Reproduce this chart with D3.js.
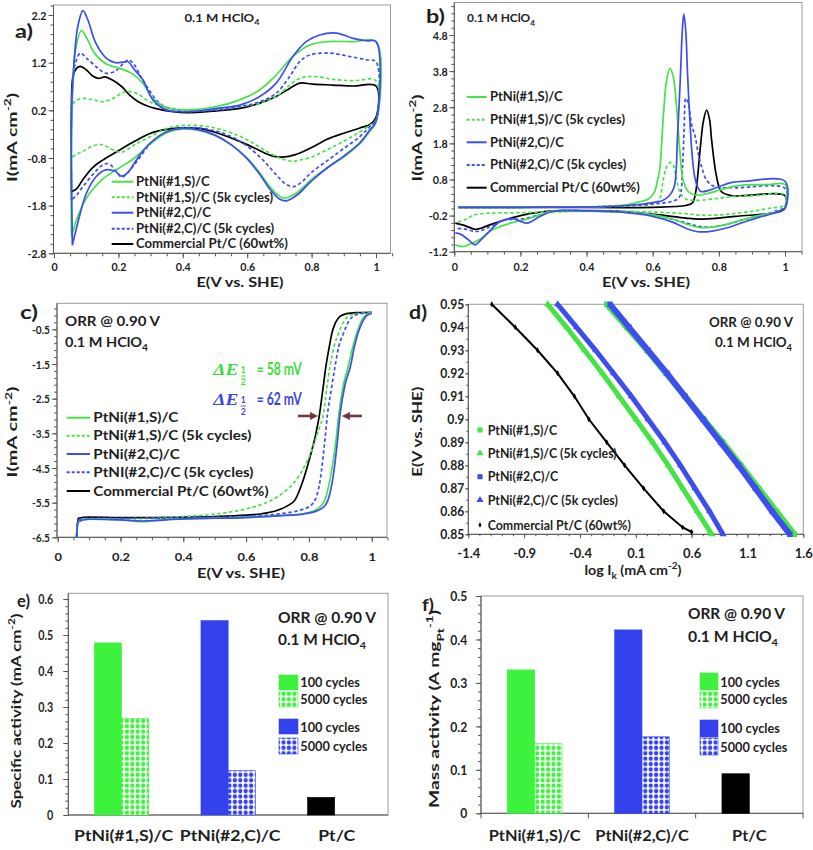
<!DOCTYPE html>
<html><head><meta charset="utf-8">
<script src="https://cdn.jsdelivr.net/npm/d3@7"></script>
<style>
body{margin:0;background:#fff}
svg{display:block}
text{font-family:Lato,"Open Sans","DejaVu Sans",sans-serif;font-weight:700;fill:#1e1e1e}
</style></head><body>
<svg id="chart" width="813" height="850"></svg>
<script>
// ================= DATA =================
const seriesNames = ["PtNi(#1,S)/C","PtNi(#1,S)/C (5k cycles)","PtNi(#2,C)/C","PtNi(#2,C)/C (5k cycles)","Commercial Pt/C (60wt%)"];
const seriesNamesC = ["PtNi(#1,S)/C","PtNi(#1,S)/C (5k cycles)","PtNi(#2,C)/C","PtNI(#2,C)/C (5k cycles)","Commercial Pt/C (60wt%)"];

// Panel a: CV in 0.1 M HClO4, [E (V), I (mA cm-2)], anodic then cathodic sweep
const a_PtNi1S = [[0.054,-2.45],[0.054,-0.28],[0.057,0.42],[0.067,1.47],[0.085,1.87],[0.102,1.71],[0.126,1.40],[0.163,1.17],[0.204,1.08],[0.240,0.98],[0.276,0.77],[0.307,0.45],[0.349,0.26],[0.411,0.21],[0.504,0.28],[0.577,0.42],[0.639,0.63],[0.690,0.94],[0.742,1.33],[0.794,1.57],[0.846,1.64],[0.929,1.64],[1.0,1.64],
 [1.0,-0.05],[0.98,-0.25],[0.95,-0.50],[0.90,-0.78],[0.85,-1.00],[0.80,-1.25],[0.76,-1.50],[0.73,-1.62],[0.715,-1.64],[0.70,-1.60],[0.67,-1.40],[0.64,-1.12],[0.60,-0.80],[0.55,-0.52],[0.50,-0.33],[0.45,-0.22],[0.40,-0.19],[0.35,-0.27],[0.30,-0.50],[0.25,-0.80],[0.20,-1.02],[0.15,-1.25],[0.10,-1.65],[0.07,-2.10],[0.054,-2.45]];
const a_PtNi1S_5k = [[0.054,-0.80],[0.054,0.0],[0.056,0.28],[0.067,0.40],[0.09,0.45],[0.121,0.42],[0.152,0.38],[0.183,0.45],[0.214,0.57],[0.240,0.59],[0.266,0.52],[0.297,0.38],[0.339,0.28],[0.40,0.21],[0.504,0.21],[0.577,0.28],[0.639,0.35],[0.69,0.49],[0.732,0.73],[0.763,0.87],[0.804,0.91],[0.866,0.85],[0.929,0.82],[1.0,0.82],
 [1.0,0.0],[0.98,-0.12],[0.95,-0.25],[0.90,-0.45],[0.85,-0.62],[0.80,-0.78],[0.76,-0.85],[0.74,-0.87],[0.70,-0.80],[0.65,-0.62],[0.60,-0.42],[0.55,-0.27],[0.50,-0.17],[0.45,-0.12],[0.40,-0.12],[0.35,-0.18],[0.30,-0.35],[0.25,-0.52],[0.21,-0.68],[0.18,-0.62],[0.15,-0.52],[0.12,-0.55],[0.09,-0.66],[0.07,-0.72],[0.054,-0.80]];
const a_PtNi2C = [[0.057,-2.63],[0.054,0.0],[0.058,0.77],[0.074,1.96],[0.09,2.29],[0.105,2.10],[0.13,1.61],[0.163,1.29],[0.19,1.20],[0.215,1.21],[0.23,1.22],[0.25,1.05],[0.276,0.84],[0.307,0.42],[0.349,0.21],[0.411,0.17],[0.504,0.24],[0.577,0.31],[0.639,0.49],[0.69,0.77],[0.742,1.33],[0.783,1.64],[0.825,1.78],[0.877,1.82],[0.929,1.71],[0.97,1.66],[1.0,1.64],
 [1.0,-0.03],[0.98,-0.22],[0.95,-0.48],[0.90,-0.76],[0.85,-1.00],[0.80,-1.28],[0.76,-1.55],[0.73,-1.68],[0.72,-1.70],[0.70,-1.66],[0.67,-1.45],[0.64,-1.15],[0.60,-0.82],[0.55,-0.52],[0.50,-0.32],[0.45,-0.21],[0.40,-0.18],[0.35,-0.25],[0.30,-0.48],[0.26,-0.80],[0.23,-1.10],[0.21,-1.18],[0.19,-1.08],[0.16,-1.05],[0.13,-1.20],[0.10,-1.55],[0.08,-2.0],[0.065,-2.4],[0.057,-2.63]];
const a_PtNi2C_5k = [[0.054,-1.68],[0.054,0.0],[0.059,0.8],[0.067,1.2],[0.082,1.40],[0.10,1.30],[0.13,1.12],[0.16,0.98],[0.19,1.02],[0.215,1.18],[0.232,1.26],[0.25,1.15],[0.27,0.90],[0.293,0.65],[0.32,0.40],[0.35,0.26],[0.40,0.18],[0.504,0.21],[0.577,0.28],[0.639,0.38],[0.69,0.56],[0.732,0.91],[0.763,1.22],[0.794,1.36],[0.856,1.40],[0.918,1.33],[0.97,1.26],[1.0,1.22],
 [1.0,0.0],[0.98,-0.15],[0.95,-0.35],[0.90,-0.60],[0.85,-0.85],[0.80,-1.10],[0.77,-1.30],[0.745,-1.40],[0.72,-1.35],[0.69,-1.15],[0.65,-0.85],[0.60,-0.55],[0.55,-0.35],[0.50,-0.23],[0.45,-0.17],[0.40,-0.17],[0.35,-0.25],[0.30,-0.50],[0.26,-0.85],[0.23,-1.10],[0.21,-1.20],[0.19,-1.05],[0.17,-0.92],[0.15,-0.95],[0.12,-1.15],[0.09,-1.40],[0.07,-1.58],[0.054,-1.68]];
const a_PtC = [[0.054,-1.51],[0.054,0.0],[0.059,0.91],[0.07,1.08],[0.081,1.12],[0.10,1.05],[0.12,0.92],[0.138,0.87],[0.158,0.90],[0.18,0.84],[0.21,0.70],[0.235,0.52],[0.262,0.38],[0.29,0.29],[0.314,0.24],[0.37,0.17],[0.411,0.15],[0.504,0.19],[0.577,0.24],[0.639,0.35],[0.69,0.49],[0.732,0.66],[0.763,0.77],[0.804,0.75],[0.866,0.73],[0.929,0.71],[1.0,0.71],
 [1.0,0.05],[0.98,-0.10],[0.95,-0.17],[0.90,-0.28],[0.85,-0.40],[0.80,-0.58],[0.75,-0.73],[0.71,-0.78],[0.68,-0.76],[0.64,-0.65],[0.60,-0.52],[0.55,-0.38],[0.50,-0.26],[0.45,-0.18],[0.40,-0.17],[0.35,-0.20],[0.30,-0.28],[0.25,-0.45],[0.20,-0.65],[0.15,-0.85],[0.12,-1.00],[0.09,-1.25],[0.07,-1.45],[0.054,-1.51]];

// Panel b: CO stripping, [E (V), I (mA cm-2)]
const b_PtNi1S = [[0.012,0.03],[0.2,0.03],[0.45,0.05],[0.52,0.10],[0.56,0.18],[0.587,0.26],[0.605,0.45],[0.615,0.8],[0.622,1.15],[0.632,2.54],[0.642,3.55],[0.652,3.88],[0.662,3.65],[0.672,2.82],[0.682,1.6],[0.692,0.78],[0.708,0.46],[0.728,0.37],[0.76,0.40],[0.80,0.50],[0.84,0.60],[0.88,0.65],[0.95,0.66],[1.0,0.66],
 [1.0,0.02],[0.97,-0.10],[0.92,-0.20],[0.87,-0.32],[0.82,-0.45],[0.78,-0.52],[0.74,-0.53],[0.70,-0.43],[0.66,-0.30],[0.60,-0.18],[0.50,-0.10],[0.40,-0.08],[0.30,-0.07],[0.26,-0.18],[0.22,-0.30],[0.19,-0.36],[0.14,-0.50],[0.11,-0.62],[0.08,-0.84],[0.045,-1.0],[0.023,-1.06],[0.003,-1.01]];
const b_PtNi1S_5k = [[0.012,0.03],[0.2,0.03],[0.45,0.05],[0.55,0.07],[0.60,0.12],[0.62,0.25],[0.63,0.7],[0.64,1.1],[0.652,1.27],[0.662,1.2],[0.672,0.8],[0.682,0.45],[0.70,0.26],[0.73,0.22],[0.80,0.28],[0.85,0.33],[0.90,0.35],[1.0,0.37],
 [1.0,0.1],[0.95,0.0],[0.90,-0.08],[0.85,-0.14],[0.80,-0.18],[0.75,-0.19],[0.70,-0.15],[0.60,-0.10],[0.50,-0.08],[0.40,-0.08],[0.30,-0.10],[0.20,-0.12],[0.12,-0.13],[0.08,-0.15],[0.055,-0.20],[0.033,-0.31],[0.003,-0.40]];
const b_PtNi2C = [[0.012,0.03],[0.2,0.03],[0.45,0.05],[0.55,0.10],[0.60,0.16],[0.63,0.22],[0.65,0.35],[0.665,0.6],[0.675,2.0],[0.683,3.5],[0.69,5.0],[0.694,5.38],[0.70,4.9],[0.705,3.8],[0.712,2.5],[0.72,1.4],[0.73,0.75],[0.745,0.47],[0.77,0.50],[0.80,0.60],[0.84,0.72],[0.88,0.75],[1.0,0.75],
 [1.0,0.02],[0.97,-0.12],[0.92,-0.25],[0.87,-0.40],[0.82,-0.55],[0.78,-0.63],[0.74,-0.65],[0.70,-0.55],[0.66,-0.38],[0.60,-0.22],[0.50,-0.10],[0.40,-0.07],[0.30,-0.08],[0.26,-0.22],[0.22,-0.41],[0.20,-0.36],[0.18,-0.29],[0.14,-0.36],[0.11,-0.60],[0.08,-0.88],[0.063,-1.01],[0.04,-0.85],[0.02,-0.72],[0.003,-0.68]];
const b_PtNi2C_5k = [[0.012,0.03],[0.2,0.03],[0.45,0.05],[0.60,0.12],[0.66,0.2],[0.68,0.3],[0.69,1.15],[0.695,2.2],[0.70,3.05],[0.708,2.9],[0.718,2.3],[0.728,2.0],[0.738,1.5],[0.748,1.15],[0.763,0.78],[0.788,0.6],[0.85,0.57],[1.0,0.55],
 [1.0,0.05],[0.97,-0.08],[0.92,-0.20],[0.87,-0.33],[0.82,-0.45],[0.77,-0.52],[0.74,-0.50],[0.70,-0.40],[0.65,-0.28],[0.60,-0.18],[0.50,-0.10],[0.40,-0.07],[0.30,-0.08],[0.25,-0.20],[0.20,-0.30],[0.15,-0.32],[0.11,-0.50],[0.08,-0.62],[0.063,-0.64],[0.03,-0.57],[0.003,-0.55]];
const b_PtC = [[0.012,0.03],[0.3,0.03],[0.6,0.03],[0.70,0.08],[0.72,0.15],[0.73,0.45],[0.743,1.6],[0.753,2.4],[0.763,2.72],[0.772,2.45],[0.778,1.9],[0.793,0.88],[0.808,0.46],[0.84,0.35],[1.0,0.35],
 [1.0,0.0],[0.98,-0.10],[0.92,-0.17],[0.85,-0.22],[0.80,-0.27],[0.74,-0.30],[0.70,-0.27],[0.62,-0.18],[0.50,-0.08],[0.40,-0.06],[0.30,-0.07],[0.25,-0.12],[0.21,-0.18],[0.16,-0.30],[0.109,-0.45],[0.08,-0.55],[0.063,-0.58],[0.03,-0.47],[0.003,-0.41]];

// Panel c: ORR polarization, [E (V), I (mA cm-2)]
const c_PtNi1S = [[0.06,-6.5],[0.065,-6.05],[0.1,-5.97],[0.2,-6.0],[0.27,-6.05],[0.35,-5.98],[0.5,-5.95],[0.6,-5.92],[0.7,-5.88],[0.78,-5.82],[0.82,-5.72],[0.84,-5.58],[0.851,-5.42],[0.87,-4.7],[0.885,-3.8],[0.895,-2.97],[0.91,-2.1],[0.925,-1.58],[0.94,-1.0],[0.952,-0.62],[0.965,-0.3],[0.98,-0.1],[0.995,-0.04]];
const c_PtNi1S_5k = [[0.06,-6.5],[0.065,-6.02],[0.1,-5.98],[0.2,-5.97],[0.3,-5.95],[0.4,-5.9],[0.5,-5.83],[0.6,-5.68],[0.65,-5.55],[0.7,-5.33],[0.72,-5.2],[0.75,-4.95],[0.78,-4.55],[0.80,-4.2],[0.82,-3.7],[0.835,-3.3],[0.846,-2.97],[0.857,-2.2],[0.867,-1.58],[0.88,-1.0],[0.894,-0.62],[0.91,-0.3],[0.93,-0.1],[0.96,-0.04],[1.0,-0.02]];
const c_PtNi2C = [[0.06,-6.5],[0.065,-6.05],[0.1,-5.98],[0.2,-6.0],[0.27,-6.03],[0.4,-5.97],[0.5,-5.95],[0.6,-5.93],[0.7,-5.88],[0.78,-5.83],[0.83,-5.72],[0.85,-5.6],[0.861,-5.42],[0.878,-4.7],[0.89,-3.8],[0.899,-2.97],[0.915,-2.1],[0.932,-1.58],[0.945,-1.0],[0.956,-0.62],[0.97,-0.3],[0.985,-0.1],[1.0,-0.04]];
const c_PtNi2C_5k = [[0.06,-6.5],[0.065,-6.0],[0.1,-5.95],[0.3,-5.95],[0.5,-5.92],[0.6,-5.9],[0.7,-5.83],[0.77,-5.72],[0.80,-5.62],[0.81,-5.55],[0.825,-5.3],[0.835,-4.9],[0.845,-4.2],[0.852,-3.6],[0.859,-2.97],[0.872,-2.2],[0.883,-1.58],[0.895,-1.0],[0.91,-0.62],[0.925,-0.3],[0.945,-0.1],[0.97,-0.04],[0.99,-0.03]];
const c_PtC = [[0.06,-6.5],[0.065,-5.95],[0.1,-5.92],[0.2,-5.93],[0.3,-5.93],[0.4,-5.92],[0.5,-5.9],[0.6,-5.86],[0.65,-5.82],[0.7,-5.72],[0.73,-5.6],[0.756,-5.42],[0.78,-4.9],[0.80,-4.3],[0.82,-3.6],[0.833,-3.0],[0.845,-2.2],[0.854,-1.58],[0.865,-1.0],[0.873,-0.62],[0.885,-0.3],[0.90,-0.12],[0.92,-0.05],[0.95,-0.02],[1.0,-0.01]];

// Panel d: Tafel plots, E (V) and log Ik (mA cm-2)
const d_E = [0.95,0.94,0.93,0.92,0.91,0.90,0.89,0.88,0.87,0.86,0.85];
const d_PtNi1S = [-0.16,0.02,0.20,0.37,0.54,0.71,0.88,1.04,1.20,1.36,1.52];
const d_PtNi1S_5k = [-0.69,-0.52,-0.36,-0.20,-0.05,0.10,0.25,0.39,0.52,0.65,0.78];
const d_PtNi2C = [-0.13,0.04,0.21,0.38,0.54,0.70,0.86,1.02,1.17,1.32,1.48];
const d_PtNi2C_5k = [-0.60,-0.43,-0.26,-0.10,0.06,0.21,0.36,0.50,0.63,0.76,0.88];
const d_E_PtC = [0.95,0.94,0.93,0.92,0.91,0.90,0.89,0.88,0.87,0.86,0.853,0.851];
const d_PtC = [-1.19,-0.98,-0.78,-0.60,-0.45,-0.32,-0.16,0.0,0.17,0.35,0.52,0.60];

// Panels e, f: bars
const barCategories = ["PtNi(#1,S)/C","PtNi(#2,C)/C","Pt/C"];
const cycleLabels = ["100 cycles","5000 cycles"];
const sa_100 = [0.478,0.540,0.049];
const sa_5000 = [0.268,0.123,0];
const ma_100 = [0.330,0.422,0.091];
const ma_5000 = [0.160,0.176,0];

// Tick values
const aYTicks = [2.2,1.2,0.2,-0.8,-1.8,-2.8];
const bYTicks = [4.8,3.8,2.8,1.8,0.8,-0.2,-1.2];
const cYTicks = [-0.5,-1.5,-2.5,-3.5,-4.5,-5.5,-6.5];
const cvXTicks = [0,0.2,0.4,0.6,0.8,1];
const dXTicks = [-1.4,-0.9,-0.4,0.1,0.6,1.1,1.6];
const dYTicks = [0.95,0.94,0.93,0.92,0.91,0.9,0.89,0.88,0.87,0.86,0.85];
const eYTicks = [0,0.1,0.2,0.3,0.4,0.5,0.6];
const fYTicks = [0,0.1,0.2,0.3,0.4,0.5];

// ================= DRAWING =================
const svg = d3.select("#chart");
const defs = svg.append("defs");
const COL = {g:"#45e345", b:"#3d4df0", k:"#000"};
const BAR = {g:"#3df23d", b:"#3442ee", k:"#000"};
const AX = "#555", FR = "#9a9a9a";

const factor = (node,w)=>w/node.getComputedTextLength();
function squeeze(sel,f){
  sel.each(function(){ const L=this.getComputedTextLength();
    d3.select(this).attr("textLength",(L*f).toFixed(2)).attr("lengthAdjust","spacingAndGlyphs"); });
}
function rich(x, y, parts, fs, o={}){
  const t = svg.append("text").attr("x",x).attr("y",y).style("font-size",fs+"px");
  if(o.anchor) t.attr("text-anchor",o.anchor);
  if(o.fill) t.style("fill",o.fill);
  if(o.transform) t.attr("transform",o.transform);
  let shift=0;
  parts.forEach(p=>{
    if(typeof p==="string") p={t:p};
    const target = p.sub?0.3:(p.sup?-0.45:0);
    const sc = (p.sub||p.sup)?0.7:1;
    const ts = t.append("tspan").text(p.t);
    if(sc!==1) ts.style("font-size","70%");
    if(target!==shift){ ts.attr("dy", ((target-shift)/sc).toFixed(3)+"em"); shift=target; }
  });
  if(o.w){ t.attr("textLength",o.w).attr("lengthAdjust","spacingAndGlyphs"); }
  return t;
}
function frameBox(x0,y0,x1,y1){
  svg.append("rect").attr("x",x0).attr("y",y0).attr("width",x1-x0).attr("height",y1-y0)
    .attr("fill","none").attr("stroke",FR).attr("stroke-width",1);
  svg.append("line").attr("x1",x0).attr("x2",x0).attr("y1",y0).attr("y2",y1).attr("stroke",AX);
  svg.append("line").attr("x1",x0).attr("x2",x1).attr("y1",y1).attr("y2",y1).attr("stroke",AX);
}
function axisY(scale, x, major, minor, o){
  if(minor){
    const gm = svg.append("g").attr("transform",`translate(${x},0)`)
      .call(d3.axisLeft(scale).tickValues(minor).tickSize(o.minorSize||3).tickSizeOuter(0).tickFormat(""));
    gm.select(".domain").remove(); gm.selectAll("line").attr("stroke",AX);
  }
  const g = svg.append("g").attr("transform",`translate(${x},0)`)
    .call(d3.axisLeft(scale).tickValues(major).tickSize(o.size||5).tickSizeOuter(0).tickPadding(o.pad).tickFormat(d=>String(d)));
  g.select(".domain").remove(); g.selectAll("line").attr("stroke",AX);
  const texts = g.selectAll("text").attr("dy","0.36em").style("font-size",o.fs+"px");
  const ref = texts.filter(d=>d===o.ref).node();
  squeeze(texts, factor(ref,o.refW));
}
function axisX(scale, y, major, minor, o){
  if(minor){
    const gm = svg.append("g").attr("transform",`translate(0,${y})`)
      .call(d3.axisBottom(scale).tickValues(minor).tickSize(o.minorSize||3).tickSizeOuter(0).tickFormat(""));
    gm.select(".domain").remove(); gm.selectAll("line").attr("stroke",AX);
  }
  const g = svg.append("g").attr("transform",`translate(0,${y})`)
    .call(d3.axisBottom(scale).tickValues(major).tickSize(o.size||5).tickSizeOuter(0).tickFormat(d=>String(d)));
  g.select(".domain").remove(); g.selectAll("line").attr("stroke",AX);
  const texts = g.selectAll("text").attr("dy",null).attr("y",o.base).style("font-size",o.fs+"px");
  const ref = texts.filter(d=>d===o.ref).node();
  squeeze(texts, factor(ref,o.refW));
}
function lineLegend(names, styles, x0, x1, tx, ys, fs, refW){
  const ts=[];
  names.forEach((n,i)=>{
    svg.append("line").attr("x1",x0).attr("x2",x1).attr("y1",ys[i]).attr("y2",ys[i])
      .attr("stroke",styles[i].c).attr("stroke-width",2).attr("stroke-dasharray",styles[i].d?"3,2":null);
    ts.push(svg.append("text").attr("x",tx).attr("y",ys[i]+fs*0.36).style("font-size",fs+"px").text(n));
  });
  const f = factor(ts[1].node(), refW);
  ts.forEach(t=>squeeze(t,f));
}
const range = (a,n,s)=>d3.range(n).map(i=>+(a+i*s).toFixed(4));
const styles5 = [{c:COL.g},{c:COL.g,d:1},{c:COL.b},{c:COL.b,d:1},{c:COL.k}];

// ---------- Panel a ----------
{
  const x = d3.scaleLinear().domain([0,1]).range([54,376]);
  const y = d3.scaleLinear().domain([-2.8,2.2]).range([253.3,15]);
  frameBox(53.5,5,390.5,253.3);
  axisY(y,53.5,aYTicks,range(-2.8,27,0.2),{pad:2,fs:11.5,ref:2.2,refW:15});
  axisX(x,253.3,cvXTicks,range(0,22,0.05),{base:18,fs:11.5,ref:0.2,refW:15});
  const line = d3.line().x(d=>x(d[0])).y(d=>y(d[1])).curve(d3.curveCatmullRom.alpha(0.5));
  const data = [[a_PtC,4],[a_PtNi1S_5k,1],[a_PtNi2C_5k,3],[a_PtNi1S,0],[a_PtNi2C,2]];
  data.forEach(([d,i])=>svg.append("path").attr("d",line(d)).attr("fill","none")
    .attr("stroke",styles5[i].c).attr("stroke-width",1.7).attr("stroke-dasharray",styles5[i].d?"3.5,2.5":null));
  lineLegend(seriesNames, styles5, 111.7, 133.3, 136, [181.7,197.3,212.7,228.7,244], 12.3, 137);
  rich(222,21.5,["0.1 M HClO",{t:"4",sub:true}],12,{anchor:"middle",w:75});
  rich(15,38,["a)"],19,{w:18});
  rich(12.5,137.5,["I(mA cm",{t:"-2",sup:true},")"],12.5,{anchor:"middle",transform:"rotate(-90,12.5,137.5)",w:89}).attr("dy","0.35em");
  rich(240,287,["E(V vs. SHE)"],12.3,{anchor:"middle",w:87});
}

// ---------- Panel b ----------
{
  const x = d3.scaleLinear().domain([0,1]).range([454.3,785]);
  const y = d3.scaleLinear().domain([-1.2,4.8]).range([251.7,35]);
  frameBox(454.3,2.5,802,251.7);
  axisY(y,454.3,bYTicks,range(-1.2,35,0.2),{pad:1.6,fs:11.5,ref:4.8,refW:15});
  axisX(x,251.7,cvXTicks,range(0,22,0.05),{base:19.5,fs:11.5,ref:0.2,refW:15});
  const line = d3.line().x(d=>x(d[0])).y(d=>y(d[1])).curve(d3.curveCatmullRom.alpha(0.5));
  const data = [[b_PtC,4],[b_PtNi1S_5k,1],[b_PtNi2C_5k,3],[b_PtNi1S,0],[b_PtNi2C,2]];
  data.forEach(([d,i])=>svg.append("path").attr("d",line(d)).attr("fill","none")
    .attr("stroke",styles5[i].c).attr("stroke-width",1.7).attr("stroke-dasharray",styles5[i].d?"3.5,2.5":null));
  lineLegend(seriesNames, styles5, 466.7, 486.7, 490, [97,119.7,142.3,165,187.7], 12.3, 135);
  rich(467,22,["0.1 M HClO",{t:"4",sub:true}],12,{w:68});
  rich(426,23,["b)"],19,{w:19});
  rich(417.5,138,["I(mA cm",{t:"-2",sup:true},")"],12.5,{anchor:"middle",transform:"rotate(-90,417.5,138)",w:87}).attr("dy","0.35em");
  rich(646,287,["E(V vs. SHE)"],12.3,{anchor:"middle",w:88});
}

// ---------- Panel c ----------
{
  const x = d3.scaleLinear().domain([0,1]).range([57.7,371.7]);
  const y = d3.scaleLinear().domain([-6.5,-0.5]).range([537.3,329.3]);
  frameBox(57,303.3,387,537.3);
  axisY(y,57,cYTicks,range(-6.5,34,0.2),{pad:2,fs:12,ref:-0.5,refW:18});
  axisX(x,537.3,cvXTicks,range(0,22,0.05),{base:24,fs:12,ref:0.2,refW:18});
  const line = d3.line().x(d=>x(d[0])).y(d=>y(d[1])).curve(d3.curveMonotoneX);
  const data = [[c_PtC,4],[c_PtNi1S_5k,1],[c_PtNi2C_5k,3],[c_PtNi1S,0],[c_PtNi2C,2]];
  data.forEach(([d,i])=>svg.append("path").attr("d",line(d)).attr("fill","none")
    .attr("stroke",styles5[i].c).attr("stroke-width",1.7).attr("stroke-dasharray",styles5[i].d?"3.5,2.5":null));
  lineLegend(seriesNamesC, styles5, 66.7, 90, 93.3, [417.7,435.7,454,472.3,491], 13.2, 158);
  rich(65,326,["ORR @ 0.90 V"],13.5,{w:95});
  rich(65,346.7,["0.1 M HClO",{t:"4",sub:true}],13.5,{w:83});
  rich(20,319,["c)"],19,{w:18});
  rich(13,432,["I(mA cm",{t:"-2",sup:true},")"],12.5,{anchor:"middle",transform:"rotate(-90,13,432)",w:91}).attr("dy","0.35em");
  rich(241,578,["E(V vs. SHE)"],12.3,{anchor:"middle",w:88});
  const dE = (x0, yb, col, val)=>{
    svg.append("text").attr("x",x0).attr("y",yb).style("font-family","'Liberation Serif','DejaVu Serif',serif")
      .style("font-style","italic").style("font-size","16px").style("fill",col)
      .attr("textLength",25).attr("lengthAdjust","spacingAndGlyphs").text("ΔE");
    svg.append("text").attr("x",x0+30).attr("y",yb-2).attr("text-anchor","middle").style("font-size","8.5px").style("fill",col).text("1");
    svg.append("line").attr("x1",x0+27.3).attr("x2",x0+32.7).attr("y1",yb+1).attr("y2",yb+1).attr("stroke",col).attr("stroke-width",0.9);
    svg.append("text").attr("x",x0+30).attr("y",yb+10).attr("text-anchor","middle").style("font-size","8.5px").style("fill",col).text("2");
    rich(x0+43.4,yb,["= "+val+" mV"],16.5,{fill:col,w:45});
  };
  dE(213.3,375,"#3ddc3d","58");
  dE(213.3,405,"#3a48dc","62");
  const AR="#72393c";
  const arrow=(xs,xe)=>{
    const yy=y(-3.0), dir=Math.sign(xe-xs);
    svg.append("line").attr("x1",x(xs)).attr("x2",x(xe)-dir*6).attr("y1",yy).attr("y2",yy).attr("stroke",AR).attr("stroke-width",2.6);
    svg.append("path").attr("d",`M${x(xe)},${yy} L${x(xe)-dir*8},${yy-4} L${x(xe)-dir*8},${yy+4} Z`).attr("fill",AR);
  };
  arrow(0.765,0.829);
  arrow(0.969,0.905);
}

// ---------- Panel d ----------
{
  const x = d3.scaleLinear().domain([-1.4,1.6]).range([468.3,803.3]);
  const y = d3.scaleLinear().domain([0.85,0.95]).range([534.3,304.3]);
  frameBox(468.3,304.3,803.3,534.3);
  axisY(y,468.3,dYTicks,range(0.85,21,0.005),{pad:1,size:3,minorSize:2,fs:12.8,ref:0.95,refW:24});
  axisX(x,534.3,dXTicks,range(-1.4,31,0.1),{base:23.7,size:4,minorSize:2,fs:12.8,ref:-1.4,refW:23});
  const line = d3.line().x(d=>x(d[0])).y(d=>y(d[1]));
  const sets = [
    {v:d_PtC, e:d_E_PtC, c:COL.k, w:2, m:"diamond", s:10},
    {v:d_PtNi1S_5k, e:d_E, c:COL.g, w:5, m:"triangle", s:22},
    {v:d_PtNi2C_5k, e:d_E, c:COL.b, w:5, m:"triangle", s:22},
    {v:d_PtNi1S, e:d_E, c:COL.g, w:6, m:"square", s:30},
    {v:d_PtNi2C, e:d_E, c:COL.b, w:6, m:"square", s:30}
  ];
  const sym = {diamond:d3.symbolDiamond, triangle:d3.symbolTriangle, square:d3.symbolSquare};
  sets.forEach(s=>{
    const pts = s.v.map((v,i)=>[v,s.e[i]]);
    svg.append("path").attr("d",line(pts)).attr("fill","none").attr("stroke",s.c).attr("stroke-width",s.w);
    svg.append("g").selectAll("path").data(pts).join("path")
      .attr("transform",d=>`translate(${x(d[0])},${y(d[1])})`)
      .attr("d",d3.symbol().type(sym[s.m]).size(s.s)).attr("fill",s.c);
  });
  const ys=[430,453.3,476.7,500,525];
  const legSym=[["square",COL.g,26],["triangle",COL.g,22],["square",COL.b,26],["triangle",COL.b,22],["diamond",COL.k,8]];
  const ts=[];
  seriesNames.forEach((n,i)=>{
    svg.append("path").attr("transform",`translate(480,${ys[i]})`).attr("d",d3.symbol().type(sym[legSym[i][0]]).size(legSym[i][2])).attr("fill",legSym[i][1]);
    ts.push(svg.append("text").attr("x",487.7).attr("y",ys[i]+4.5).style("font-size","12.8px").text(n));
  });
  const f=factor(ts[1].node(),129); ts.forEach(t=>squeeze(t,f));
  rich(793,327,["ORR @ 0.90 V"],13.3,{anchor:"end",w:84});
  rich(792,347,["0.1 M HClO",{t:"4",sub:true}],13.3,{anchor:"end",w:77});
  rich(409,319,["d)"],19,{w:18});
  rich(417.5,431.7,["E(V vs. SHE)"],13,{anchor:"middle",transform:"rotate(-90,417.5,431.7)",w:90}).attr("dy","0.35em");
  rich(633,575,["log I",{t:"k",sub:true}," (mA cm",{t:"-2",sup:true},")"],13,{anchor:"middle",w:97});
}

// ---------- Bar panels ----------
function pat(id,col){
  const p = defs.append("pattern").attr("id",id).attr("patternUnits","userSpaceOnUse").attr("width",5.4).attr("height",5.4);
  p.append("rect").attr("width",5.4).attr("height",5.4).attr("fill","#fff");
  p.append("circle").attr("cx",2.7).attr("cy",2.7).attr("r",2.15).attr("fill",col);
}
pat("pg",BAR.g); pat("pb",BAR.b);
const barFill100 = [BAR.g,BAR.b,BAR.k];
const barFill5000 = ["url(#pg)","url(#pb)","url(#pb)"];
const barStroke = [BAR.g,BAR.b,BAR.k];

function barPanel(o){
  const x0 = d3.scaleBand().domain(barCategories).range([o.x0,o.x1]).padding(0);
  const bw = x0.bandwidth()*0.255;
  const x1 = d3.scaleBand().domain(cycleLabels).range([0,2*bw]);
  const y = d3.scaleLinear().domain([0,o.max]).range([o.yb,o.yt]);
  frameBox(o.x0,o.ft,o.x1,o.yb);
  axisY(y,o.x0,o.ticks,range(0,o.nMinor,0.02),{pad:o.pad,fs:13,ref:o.ref,refW:o.refW});
  if(o.xticks){
    const b=[...barCategories.map(c=>x0(c)),o.x1];
    b.forEach(v=>svg.append("line").attr("x1",v).attr("x2",v).attr("y1",o.yb).attr("y2",o.yb+5).attr("stroke",AX));
  }
  const rows=[];
  barCategories.forEach((c,i)=>{ rows.push({c,i,k:cycleLabels[0],v:o.v100[i]}); rows.push({c,i,k:cycleLabels[1],v:o.v5000[i]}); });
  svg.append("g").selectAll("rect").data(rows.filter(r=>r.v>0)).join("rect")
    .attr("x",r=>x0(r.c)+x0.bandwidth()/2-bw+x1(r.k)).attr("width",x1.bandwidth())
    .attr("y",r=>y(r.v)).attr("height",r=>y(0)-y(r.v))
    .attr("fill",r=>r.k===cycleLabels[0]?barFill100[r.i]:barFill5000[r.i])
    .attr("stroke",r=>barStroke[r.i]).attr("stroke-width",0.6);
  const cl=[];
  barCategories.forEach(c=>cl.push(svg.append("text").attr("x",x0(c)+x0.bandwidth()/2+o.labDx).attr("y",841).attr("text-anchor","middle").style("font-size","14.5px").text(c)));
  const f=factor(cl[0].node(),o.catW); cl.forEach(t=>squeeze(t,f));
  const lf=[barFill100[0],barFill5000[0],barFill100[1],barFill5000[1]];
  const lt=[];
  o.legY.forEach((ly,i)=>{
    svg.append("rect").attr("x",o.legX).attr("y",ly[0]).attr("width",o.legW).attr("height",ly[1]-ly[0]).attr("fill",lf[i]).attr("stroke",i<2?BAR.g:BAR.b).attr("stroke-width",0.6);
    lt.push(svg.append("text").attr("x",o.legX+o.legW+2.3).attr("y",ly[2]).style("font-size","12.3px").text(cycleLabels[i%2]));
  });
  const fl=factor(lt[1].node(),67); lt.forEach(t=>squeeze(t,fl));
}

// ---------- Panel e ----------
barPanel({x0:68.3,x1:388,yt:599,yb:815,ft:593.3,max:0.6,ticks:eYTicks,nMinor:31,pad:10,ref:0.6,refW:15,
  v100:sa_100,v5000:sa_5000,catW:99,labDx:2,xticks:false,legX:279,legW:19,
  legY:[[675,690,687],[692,707,704],[719,734,732],[738,754,751]]});
rich(278,623,["ORR @ 0.90 V"],14.5,{w:98});
rich(278,645,["0.1 M HClO",{t:"4",sub:true}],14.5,{w:88});
rich(17,607,["e)"],17,{w:13});
rich(16,711,["Specific activity (mA cm",{t:"-2",sup:true},")"],14,{anchor:"middle",transform:"rotate(-90,16,711)",w:195}).attr("dy","0.35em");

// ---------- Panel f ----------
barPanel({x0:481,x1:803,yt:596,yb:813.3,ft:596,max:0.5,ticks:fYTicks,nMinor:26,pad:8.7,ref:0.5,refW:17,
  v100:ma_100,v5000:ma_5000,catW:92,labDx:0,xticks:true,legX:700,legW:18,
  legY:[[673,690,687],[692,708,704],[720,737,733],[738,755,752]]});
rich(688,619,["ORR @ 0.90 V"],14.5,{w:97});
rich(688,642,["0.1 M HClO",{t:"4",sub:true}],14.5,{w:90});
rich(422,611,["f)"],17,{w:12});
rich(434.5,709,["Mass activity (A mg",{t:"Pt",sub:true},{t:"-1",sup:true},")"],14,{anchor:"middle",transform:"rotate(-90,434.5,709)",w:198}).attr("dy","0.35em");
</script>
</body></html>
